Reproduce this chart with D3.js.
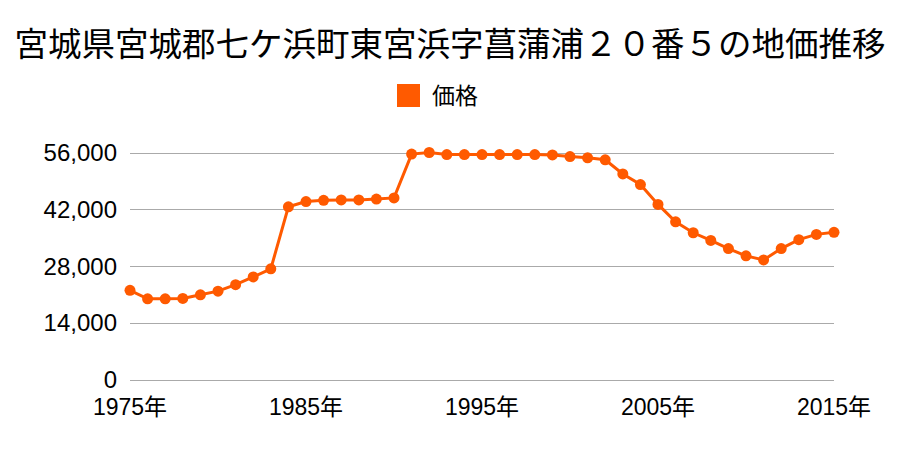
<!DOCTYPE html>
<html><head><meta charset="utf-8">
<script src="https://cdn.jsdelivr.net/npm/d3@7"></script>
<style>body{margin:0;background:#fff;}svg{display:block;}</style>
</head><body>
<svg id="c" width="900" height="450"></svg>
<script>
const title = "宮城県宮城郡七ケ浜町東宮浜字菖蒲浦２０番５の地価推移";
const seriesName = "価格";
const years = d3.range(1975, 2016);
const prices = [
  22000,19900,19900,20000,20900,21800,23400,25300,27300,42600, // 1975-1984
  43900,44200,44300,44300,44500,44800,55600,56000,55500,55500, // 1985-1994
  55500,55500,55500,55500,55400,55000,54700,54200,50700,48100, // 1995-2004
  43200,38900,36200,34300,32300,30500,29500,32300,34500,35800, // 2005-2014
  36300                                                         // 2015
];
const yTicks = [0,14000,28000,42000,56000];
const xTicks = [1975,1985,1995,2005,2015];
const color = "#ff5a00";
const font = "'Noto Sans CJK JP', 'Noto Sans', sans-serif";
const numFont = "'Liberation Sans', 'Noto Sans CJK JP', sans-serif";

const svg = d3.select("#c");
const x = d3.scaleLinear().domain([1975,2015]).range([130,834]);
const y = d3.scaleLinear().domain([0,56000]).range([379.5,152.5]);

svg.append("text").attr("x",450).attr("y",56).attr("text-anchor","middle")
  .attr("font-family",font).attr("font-size",33.5).attr("fill","#000").text(title);

svg.append("rect").attr("x",397).attr("y",84).attr("width",23).attr("height",23).attr("fill",color);
svg.append("text").attr("x",432).attr("y",104).attr("font-family",font).attr("font-size",23).attr("fill","#000").text(seriesName);

const gy = svg.append("g");
gy.selectAll("line").data(yTicks).join("line")
  .attr("x1",130).attr("x2",834).attr("y1",d=>Math.round(y(d))+0.5).attr("y2",d=>Math.round(y(d))+0.5)
  .attr("stroke","#aaaaaa").attr("stroke-width",1);
gy.selectAll("text").data(yTicks).join("text")
  .attr("x",117).attr("y",d=>y(d)+8.5).attr("text-anchor","end")
  .attr("font-family",numFont).attr("font-size",24).attr("fill","#000")
  .text(d=>d3.format(",")(d));

svg.append("g").selectAll("text").data(xTicks).join("text")
  .attr("x",d=>x(d)).attr("y",415).attr("text-anchor","middle")
  .attr("font-family",numFont).attr("font-size",23).attr("fill","#000")
  .text(d=>d+"年");

const data = years.map((yr,i)=>({yr, v:prices[i]}));
svg.append("path").datum(data)
  .attr("d", d3.line().x(d=>x(d.yr)).y(d=>y(d.v)))
  .attr("fill","none").attr("stroke",color).attr("stroke-width",3);
svg.append("g").selectAll("circle").data(data).join("circle")
  .attr("cx",d=>x(d.yr)).attr("cy",d=>y(d.v)).attr("r",5.5).attr("fill",color);
</script>
</body></html>
